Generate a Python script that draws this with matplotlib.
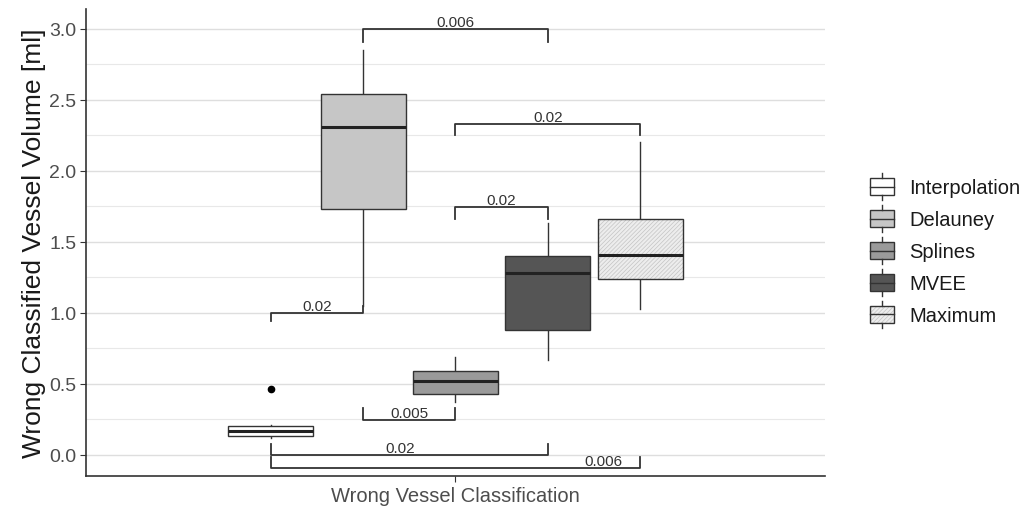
import numpy as np
import matplotlib
matplotlib.use("Agg")
import matplotlib.pyplot as plt
from matplotlib.patches import Rectangle
from matplotlib.legend_handler import HandlerBase
from matplotlib.lines import Line2D

plt.rcParams.update({
    "font.family": ["Liberation Sans", "DejaVu Sans"],
    "hatch.linewidth": 0.5,
})

# ---------- data ----------
methods   = ["Interpolation", "Delauney", "Splines", "MVEE", "Maximum"]
fills     = ["#ffffff", "#c6c6c6", "#9a9a9a", "#555555", "#ededed"]
hatches   = [None, None, None, None, "////////"]
HATCH_COL = "#c4c4c4"
whis_lo   = [0.12, 1.05, 0.37, 0.67, 1.03]
q1        = [0.13, 1.73, 0.43, 0.88, 1.24]
median    = [0.17, 2.31, 0.52, 1.28, 1.41]
q3        = [0.20, 2.54, 0.59, 1.40, 1.66]
whis_hi   = [0.21, 2.85, 0.69, 1.63, 2.20]
outliers  = [[0.46], [], [], [], []]

# significance brackets: left group, right group, bar level, tip ends, label, label x shift
br_left   = [1, 2, 2, 0, 1, 0, 0]
br_right  = [3, 4, 3, 1, 2, 3, 4]
br_y      = [3.00, 2.33, 1.745, 1.00, 0.245, 0.00, -0.095]
br_tip_l  = [2.91, 2.25, 1.66, 0.945, 0.33, 0.075, -0.015]
br_tip_r  = [2.91, 2.25, 1.66, 1.05, 0.33, 0.075, -0.015]
br_label  = ["0.006", "0.02", "0.02", "0.02", "0.005", "0.02", "0.006"]
br_lab_x  = [0.0, 0.0, 0.0, 0.0, 0.0, -0.015, 0.24]

category = "Wrong Vessel Classification"
dodge = 0.15
box_w = 0.138


def hatched_box(xy, w, h, fill, hatch, **kw):
    # fill + light hatch underneath, dark outline on top
    patches = [Rectangle(xy, w, h, facecolor=fill, edgecolor=HATCH_COL, lw=0,
                         hatch=hatch, **kw),
               Rectangle(xy, w, h, facecolor="none", edgecolor="#333333", lw=1.0, **kw)]
    return patches


class BoxHandler(HandlerBase):
    def __init__(self, fill, hatch):
        super().__init__()
        self.fill = fill
        self.hatch = hatch

    def create_artists(self, legend, orig_handle, xdescent, ydescent,
                       width, height, fontsize, trans):
        cx = width / 2 - xdescent
        w = width * 0.9
        y0 = -ydescent + height * 0.05
        h = height * 0.9
        rects = hatched_box((cx - w / 2, y0), w, h, self.fill, self.hatch,
                            transform=trans)
        med = Line2D([cx - w / 2, cx + w / 2], [y0 + h / 2] * 2,
                     color="#333333", lw=1.0, transform=trans)
        lo = Line2D([cx, cx], [y0 - height * 0.3, y0],
                    color="#333333", lw=1.0, transform=trans)
        hi = Line2D([cx, cx], [y0 + h, y0 + h + height * 0.3],
                    color="#333333", lw=1.0, transform=trans)
        return rects + [med, lo, hi]


def main():
    fig = plt.figure(figsize=(10.29, 5.10), dpi=100)
    ax = fig.add_axes([0.0836, 0.0647, 0.7181, 0.9157])

    pos = [1 + (i - 2) * dodge for i in range(len(methods))]

    for i, p in enumerate(pos):
        ax.plot([p, p], [whis_lo[i], q1[i]], color="#333333", lw=1.0, zorder=3)
        ax.plot([p, p], [q3[i], whis_hi[i]], color="#333333", lw=1.0, zorder=3)
        for r in hatched_box((p - box_w / 2, q1[i]), box_w, q3[i] - q1[i],
                             fills[i], hatches[i], zorder=3):
            ax.add_patch(r)
        ax.plot([p - box_w / 2, p + box_w / 2], [median[i], median[i]],
                color="#222222", lw=2.2, zorder=4, solid_capstyle="butt")
        if outliers[i]:
            ax.plot([p] * len(outliers[i]), outliers[i], "o", color="black",
                    ms=4.5, zorder=4)

    for k in range(len(br_label)):
        xl, xr = pos[br_left[k]], pos[br_right[k]]
        ax.plot([xl, xl, xr, xr], [br_tip_l[k], br_y[k], br_y[k], br_tip_r[k]],
                color="#333333", lw=1.3, zorder=5)
        ax.text((xl + xr) / 2 + br_lab_x[k], br_y[k], br_label[k],
                ha="center", va="bottom", fontsize=11, color="#333333", zorder=6)

    ax.set_xlim(0.4, 1.6)
    ax.set_ylim(-0.15, 3.14)
    ax.set_xticks([1])
    ax.set_xticklabels([category], fontsize=14.5, color="#4d4d4d")
    ax.set_yticks(np.arange(0, 3.01, 0.5))
    ax.set_yticklabels([f"{v:.1f}" for v in np.arange(0, 3.01, 0.5)],
                       fontsize=14, color="#4d4d4d")
    ax.set_yticks(np.arange(0.25, 3.0, 0.5), minor=True)
    ax.tick_params(axis="y", which="minor", length=0)
    ax.tick_params(axis="both", which="major", length=4, color="#333333", pad=3)
    ax.set_ylabel("Wrong Classified Vessel Volume [ml]", fontsize=19, color="#1a1a1a",
                  labelpad=2)

    ax.grid(axis="y", which="major", color="#dedede", lw=1.0, zorder=0)
    ax.grid(axis="y", which="minor", color="#e8e8e8", lw=0.8, zorder=0)
    ax.set_axisbelow(True)
    for s in ["top", "right"]:
        ax.spines[s].set_visible(False)
    for s in ["left", "bottom"]:
        ax.spines[s].set_color("#333333")
        ax.spines[s].set_linewidth(1.2)

    handles = [Rectangle((0, 0), 1, 1) for _ in methods]
    handler_map = {h: BoxHandler(fills[i], hatches[i]) for i, h in enumerate(handles)}
    fig.legend(handles, methods, handler_map=handler_map, loc="center left",
               bbox_to_anchor=(0.827, 0.505), frameon=False, fontsize=14.5,
               handlelength=1.3, handleheight=1.0, labelspacing=0.6,
               handletextpad=0.7, labelcolor="#1a1a1a")

    fig.savefig("out.png", dpi=100)
    plt.close(fig)


if __name__ == "__main__":
    main()
